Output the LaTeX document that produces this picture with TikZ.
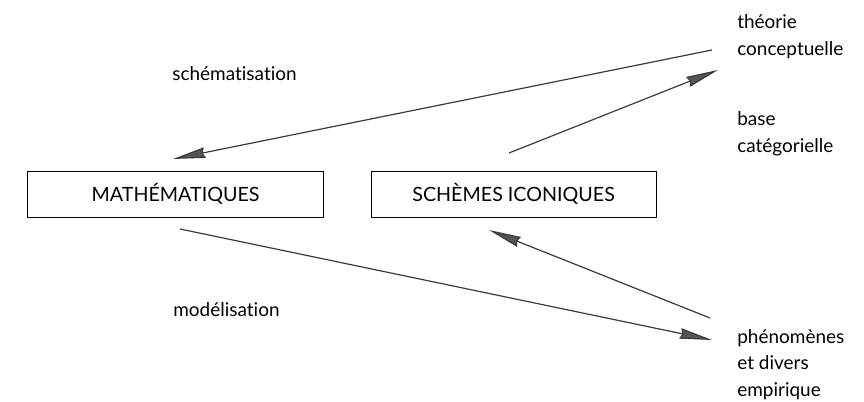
\documentclass[tikz,border=0pt]{standalone}
\usepackage{fontspec}
\setmainfont[RawFeature={-liga;-dlig;-calt;-clig}]{Lato}
\usepackage{tikz}
\usetikzlibrary{arrows.meta}
\definecolor{trait}{HTML}{3A3A3A}
\definecolor{pointe}{HTML}{555555}
\tikzset{
    boite/.style={draw=black, line width=0.7pt, minimum width=7.4cm, minimum height=1.15cm, inner sep=0pt, font=\fontsize{14}{19}\selectfont},
    etiquette/.style={inner sep=0pt, align=left, anchor=west},
    fleche/.style={draw=trait, line width=0.85pt, -{Stealth[length=23pt, width=7.5pt, inset=1.5pt, fill=pointe]}}}

\begin{document}
\begin{tikzpicture}[font=\fontsize{13.5}{19}\selectfont]
                
                    \useasboundingbox (0,0) rectangle (21.6,10.05);
                
                    \node[boite] (M) at (4.39,5.2) {MATHÉMATIQUES};
                    \node[boite, minimum width=7.125cm] (S) at (12.84,5.2) {SCHÈMES ICONIQUES};
                    \node[etiquette] (sch) at (4.3,8.2) {schématisation};
                    \node[etiquette] (mod) at (4.325,2.31) {modélisation};
                    \node[etiquette] (T) at (18.425,9.14) {théorie\\conceptuelle};
                    \node[etiquette] (B) at (18.425,6.71) {base\\catégorielle};
                    \node[etiquette] (P) at (18.425,0.94) {phénomènes\\et divers\\empirique};
                
                    \coordinate (T1) at (17.8,8.8);
                    \coordinate (M1) at (4.325,6.075);
                    \coordinate (S1) at (12.725,6.225);
                    \coordinate (T2) at (17.95,8.3);
                    \coordinate (M2) at (4.5,4.325);
                    \coordinate (P1) at (17.8,1.55);
                    \coordinate (P2) at (17.75,2.1);
                    \coordinate (S2) at (12.225,4.3);
                
                    \draw[fleche] (T1) -- (M1);
                    \draw[fleche] (S1) -- (T2);
                    \draw[fleche] (M2) -- (P1);
                    \draw[fleche] (P2) -- (S2);
            
                \end{tikzpicture}
\end{document}
